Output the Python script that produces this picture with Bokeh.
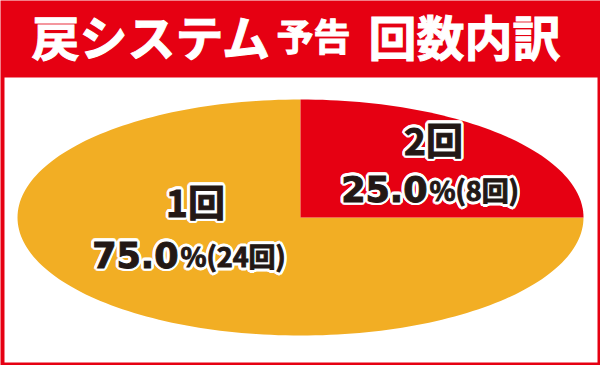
import math
from bokeh.plotting import figure
from bokeh.core.properties import value
from bokeh.embed import file_html
from bokeh.resources import INLINE

# ---- data ----
categories = ["1回", "2回"]
counts = [24, 8]
colors = ["#f2ae24", "#e60012"]
title_main = "戻システム"
title_small = "予告"
title_tail = "回数内訳"

W, H = 600, 365
RED = "#e60012"
JP = value("Noto Sans CJK JP")
NUM = value("DejaVu Sans")

p = figure(width=W, height=H, x_range=(0, W), y_range=(H, 0),
           output_backend="svg", toolbar_location=None, min_border=0,
           background_fill_color=RED, border_fill_color=RED)
p.axis.visible = False
p.grid.visible = False
p.outline_line_color = None

# white panel
p.quad(left=[4], right=[597], top=[77], bottom=[362], fill_color="white", line_color=None)

# title
tstyle = dict(text_font=JP, text_font_style="bold", text_color="white",
              text_outline_color="white", text_align="left", text_baseline="alphabetic")
p.text(x=[31], y=[34], text=[title_main], text_font_size="48px", **tstyle)
p.text(x=[276], y=[34], text=[title_small], text_font_size="37px", **tstyle)
p.text(x=[368], y=[34], text=[title_tail], text_font_size="48px", **tstyle)

# elliptical pie
cx, cy, rx, ry = 300, 217, 283, 118
total = sum(counts)
start = math.pi / 2
xs, ys = [], []
a0 = start
for c in counts:
    a1 = a0 + 2 * math.pi * c / total
    n = max(int(240 * c / total), 8)
    px, py = [cx], [cy]
    for i in range(n + 1):
        a = a0 + (a1 - a0) * i / n
        px.append(cx + rx * math.cos(a))
        py.append(cy - ry * math.sin(a))
    xs.append(px)
    ys.append(py)
    a0 = a1
p.patches(xs=xs, ys=ys, fill_color=colors, line_color=None)


def halo_text(x, y, txt, size, font, align, baseline, r=2.6):
    offs = [(r * math.cos(k * math.pi / 8), r * math.sin(k * math.pi / 8)) for k in range(16)]
    p.text(x=[x + dx for dx, dy in offs], y=[y + dy for dx, dy in offs], text=[txt] * len(offs),
           text_font=font, text_font_style="bold", text_font_size=size, text_color="white",
           text_outline_color="white", text_align=align, text_baseline=baseline)
    p.text(x=[x], y=[y], text=[txt], text_font=font, text_font_style="bold",
           text_font_size=size, text_color="#231815", text_outline_color="#231815",
           text_align=align, text_baseline=baseline)


# labels (layout anchors per slice)
name_pos = [(195, 200), (433, 138)]
split_x = [178, 427]
base_y = [254, 188]
pcts = ["%.1f" % (100 * c / total) for c in counts]
for i in range(len(categories)):
    halo_text(name_pos[i][0], name_pos[i][1], categories[i], "37px", JP, "center", "middle")
    halo_text(split_x[i], base_y[i], pcts[i], "35px", NUM, "right", "alphabetic")
    halo_text(split_x[i] + 2, base_y[i] + 1, "%(" + str(counts[i]) + "回)", "27px", JP,
              "left", "alphabetic")

open("out.html", "w").write(file_html(p, INLINE))
